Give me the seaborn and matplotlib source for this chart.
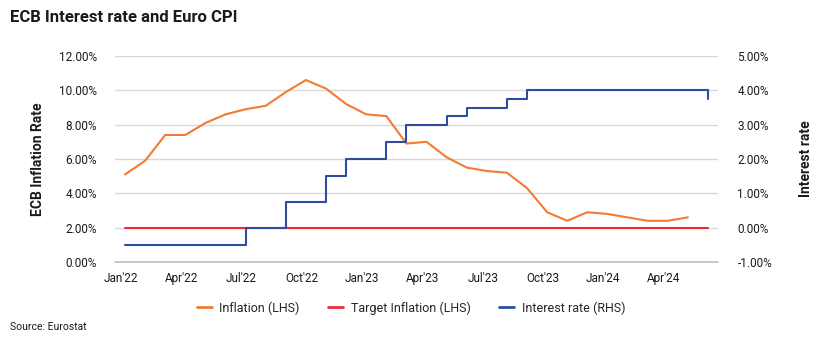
import matplotlib
matplotlib.use("Agg")
import matplotlib.pyplot as plt
from matplotlib.lines import Line2D
import seaborn as sns
import pandas as pd
import numpy as np

# ---- data ----
months = ["Jan'22", "Feb'22", "Mar'22", "Apr'22", "May'22", "Jun'22", "Jul'22", "Aug'22", "Sep'22",
          "Oct'22", "Nov'22", "Dec'22", "Jan'23", "Feb'23", "Mar'23", "Apr'23", "May'23", "Jun'23",
          "Jul'23", "Aug'23", "Sep'23", "Oct'23", "Nov'23", "Dec'23", "Jan'24", "Feb'24", "Mar'24",
          "Apr'24", "May'24", "Jun'24"]
inflation = [5.1, 5.9, 7.4, 7.4, 8.1, 8.6, 8.9, 9.1, 9.9, 10.6, 10.1, 9.2, 8.6, 8.5, 6.9, 7.0,
             6.1, 5.5, 5.3, 5.2, 4.3, 2.9, 2.4, 2.9, 2.8, 2.6, 2.4, 2.4, 2.6]
target_inflation = [2.0] * 30
interest_rate = [-0.5, -0.5, -0.5, -0.5, -0.5, -0.5, 0.0, 0.0, 0.75, 0.75, 1.5, 2.0, 2.0, 2.5,
                 3.0, 3.0, 3.25, 3.5, 3.5, 3.75, 4.0, 4.0, 4.0, 4.0, 4.0, 4.0, 4.0, 4.0, 4.0, 3.75]
tick_labels = ["Jan'22", "Apr'22", "Jul'22", "Oct'22", "Jan'23", "Apr'23", "Jul'23", "Oct'23",
               "Jan'24", "Apr'24"]
left_ticks = [0, 2, 4, 6, 8, 10, 12]
right_ticks = [-1, 0, 1, 2, 3, 4, 5]

ORANGE = "#F47932"
RED = "#EE2B33"
BLUE = "#2F4C9F"
GRID = "#D9D9D9"
TEXT = "#1a1a1a"

sns.set_theme(style="white")
plt.rcParams["font.family"] = ["Roboto", "DejaVu Sans"]

df_inf = pd.DataFrame({"x": np.arange(len(inflation)), "v": inflation})
df_tgt = pd.DataFrame({"x": np.arange(len(target_inflation)), "v": target_inflation})
df_ir = pd.DataFrame({"x": np.arange(len(interest_rate)), "v": interest_rate})

fig = plt.figure(figsize=(8.30, 3.41), dpi=100)
ax = fig.add_axes([115 / 830, 79 / 341, 603 / 830, 206 / 341])
ax2 = ax.twinx()

sns.lineplot(data=df_tgt, x="x", y="v", ax=ax, color=RED, linewidth=1.5, legend=False, zorder=3)
sns.lineplot(data=df_inf, x="x", y="v", ax=ax, color=ORANGE, linewidth=1.5, legend=False, zorder=4)
sns.lineplot(data=df_ir, x="x", y="v", ax=ax2, color=BLUE, linewidth=1.5, legend=False,
             drawstyle="steps-post")

ax.set_xlim(-0.5, 29.5)
ax.set_ylim(0, 12)
ax2.set_ylim(-1, 5)

ax.set_yticks(left_ticks)
ax.set_yticklabels([f"{t:.2f}%" for t in left_ticks], fontsize=8.5, color=TEXT)
ax2.set_yticks(right_ticks)
ax2.set_yticklabels([f"{t:.2f}%" for t in right_ticks], fontsize=8.5, color=TEXT)

for t in left_ticks[1:]:
    ax.axhline(t, color=GRID, linewidth=1.0, zorder=0)

# x ticks: marks at quarter boundaries, labels slightly right of marks
major = np.arange(-0.5, 30, 3)
ax.set_xticks(major)
ax.set_xticklabels([""] * len(major))
ax.set_xticks(np.arange(0, 30, 3) - 0.2, minor=True)
ax.set_xticklabels(tick_labels, minor=True, fontsize=8.5, color=TEXT)
ax.tick_params(axis="x", which="major", length=4, width=1, color="#BFBFBF", direction="out")
ax.tick_params(axis="x", which="minor", length=0, pad=7)
ax.tick_params(axis="y", length=0, pad=13)
ax2.tick_params(axis="y", length=0, pad=14)
ax.set_xlabel("")
ax.set_ylabel("ECB Inflation Rate", fontsize=10, fontweight="semibold", color=TEXT, labelpad=10)
ax2.set_ylabel("Interest rate", fontsize=10, fontweight="semibold", color=TEXT, labelpad=19)

for a in (ax, ax2):
    for s in ["top", "left", "right", "bottom"]:
        a.spines[s].set_visible(False)
ax.axhline(0, color="#BFBFBF", linewidth=1.2, zorder=1, clip_on=False)

fig.text(10 / 830, 1 - 17 / 341, "ECB Interest rate and Euro CPI", fontsize=12,
         fontweight="semibold", color=TEXT, va="center", ha="left")
fig.text(10 / 830, 1 - 327 / 341, "Source: Eurostat", fontsize=7.5, color=TEXT,
         va="center", ha="left")

handles = [Line2D([], [], color=ORANGE, lw=2),
           Line2D([], [], color=RED, lw=2),
           Line2D([], [], color=BLUE, lw=2)]
fig.legend(handles, ["Inflation (LHS)", "Target Inflation (LHS)", "Interest rate (RHS)"],
           loc="center", bbox_to_anchor=(411 / 830, 1 - 308 / 341), ncol=3, frameon=False,
           fontsize=9, handlelength=1.2, handletextpad=0.6, columnspacing=2.3)

fig.savefig("out.png", dpi=100)
